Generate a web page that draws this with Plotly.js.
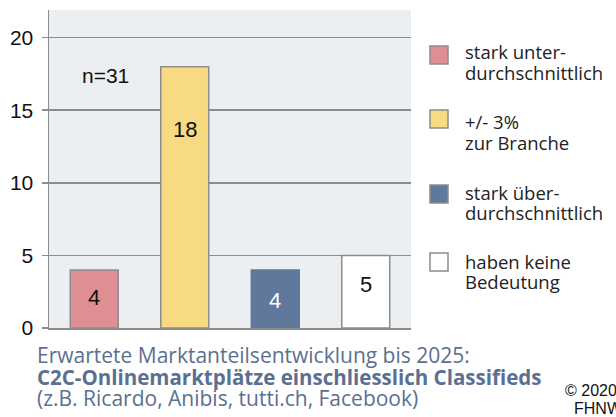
<!DOCTYPE html>
<html><head><meta charset="utf-8">
<script src="https://cdn.plot.ly/plotly-3.0.1.min.js"></script>
<style>body{margin:0;padding:0;background:#fff}#chart{width:616px;height:417px}</style>
</head><body><div id="chart"></div>
<script>
// ---- data ----
const categories = ["stark unter-durchschnittlich", "+/- 3% zur Branche", "stark über-durchschnittlich", "haben keine Bedeutung"];
const counts = [4, 18, 4, 5];
const legendLabels = [["stark unter-", "durchschnittlich"], ["+/- 3%", "zur Branche"], ["stark über-", "durchschnittlich"], ["haben keine", "Bedeutung"]];
const barColors = ["#df8f94", "#f8da83", "#60789b", "#ffffff"];
const sampleNote = "n=31";
const yTicks = [0, 5, 10, 15, 20];
const captionLines = ["Erwartete Marktanteilsentwicklung bis 2025:", "<b>C2C-Onlinemarktplätze einschliesslich Classifieds</b>", "(z.B. Ricardo, Anibis, tutti.ch, Facebook)"];
const copyrightLines = ["© 2020", "FHNW"];

// ---- layout helpers ----
const W = 616, H = 417, L = 49, R = 411, T = 10, B = 328;
const px = x => (x - L) / (R - L);
const py = y => (B - y) / (B - T);
const gray = "#8c8c8c";

const barLine = barColors.map((c, i) => i === 2 ? c : gray);
const valueTextColor = barColors.map((c, i) => i === 2 ? "#ffffff" : "#111111");
const valueShift = [-28, -63, -31, -29];

const annotations = [];
counts.forEach((v, i) => {
  annotations.push({x: categories[i], y: v, xref: "x", yref: "y", text: String(v), showarrow: false,
    yanchor: "middle", yshift: valueShift[i],
    font: {family: "Liberation Sans, Arial, sans-serif", size: 22, color: valueTextColor[i]}});
});
annotations.push({x: px(105), y: py(76), xref: "paper", yref: "paper", text: sampleNote, showarrow: false,
  xanchor: "center", yanchor: "middle", font: {family: "Liberation Sans, Arial, sans-serif", size: 21, color: "#111"}});

const shapes = [];
const legendSquareTops = [46, 110, 185, 253];
const legendBaselines = [[58, 79], [127, 148], [198, 218], [267, 287]];
legendLabels.forEach((lines, i) => {
  shapes.push({type: "rect", xref: "paper", yref: "paper",
    x0: px(430), x1: px(448), y0: py(legendSquareTops[i]), y1: py(legendSquareTops[i] + 18),
    fillcolor: barColors[i], line: {color: gray, width: 1.5}});
  lines.forEach((t, j) => {
    annotations.push({x: px(463), y: py(legendBaselines[i][j] - 6), xref: "paper", yref: "paper", text: t,
      showarrow: false, xanchor: "left", yanchor: "middle", align: "left",
      font: {family: "Open Sans, Noto Sans, sans-serif", size: 18.5, color: "#222"}});
  });
});

const capY = [355, 377, 398];
const capSize = [21, 20.5, 21];
captionLines.forEach((t, i) => {
  annotations.push({x: px(35), y: py(capY[i]), xref: "paper", yref: "paper", text: t, showarrow: false,
    xanchor: "left", yanchor: "middle", align: "left",
    font: {family: "Open Sans, Noto Sans, sans-serif", size: capSize[i], color: "#5b7091"}});
});
const cpX = [563, 572], cpY = [390, 408];
copyrightLines.forEach((t, i) => {
  annotations.push({x: px(cpX[i]), y: py(cpY[i]), xref: "paper", yref: "paper", text: t, showarrow: false,
    xanchor: "left", yanchor: "middle",
    font: {family: "Liberation Sans, Arial, sans-serif", size: 16, color: "#111"}});
});

const trace = {
  type: "bar", x: categories, y: counts,
  marker: {color: barColors, line: {color: barLine, width: 1.5}},
  hoverinfo: "none", showlegend: false
};

const layout = {
  width: W, height: H,
  margin: {l: L, r: W - R, t: T, b: H - B, pad: 0},
  paper_bgcolor: "#ffffff", plot_bgcolor: "#eceff2",
  bargap: 0.47,
  showlegend: false,
  xaxis: {showticklabels: false, ticks: "", showgrid: false, zeroline: false,
    showline: true, linecolor: gray, linewidth: 1.5, fixedrange: true},
  yaxis: {range: [0, 21.9], tickvals: yTicks, ticks: "outside", ticklen: 6, tickcolor: gray, tickwidth: 1.5,
    showgrid: true, gridcolor: gray, gridwidth: 1.5, zeroline: false,
    showline: true, linecolor: gray, linewidth: 1.5, ticklabelstandoff: 4,
    tickfont: {family: "Liberation Sans, Arial, sans-serif", size: 21, color: "#111"}, fixedrange: true},
  annotations: annotations, shapes: shapes
};

Plotly.newPlot("chart", [trace], layout, {displayModeBar: false, staticPlot: true});
</script></body></html>
